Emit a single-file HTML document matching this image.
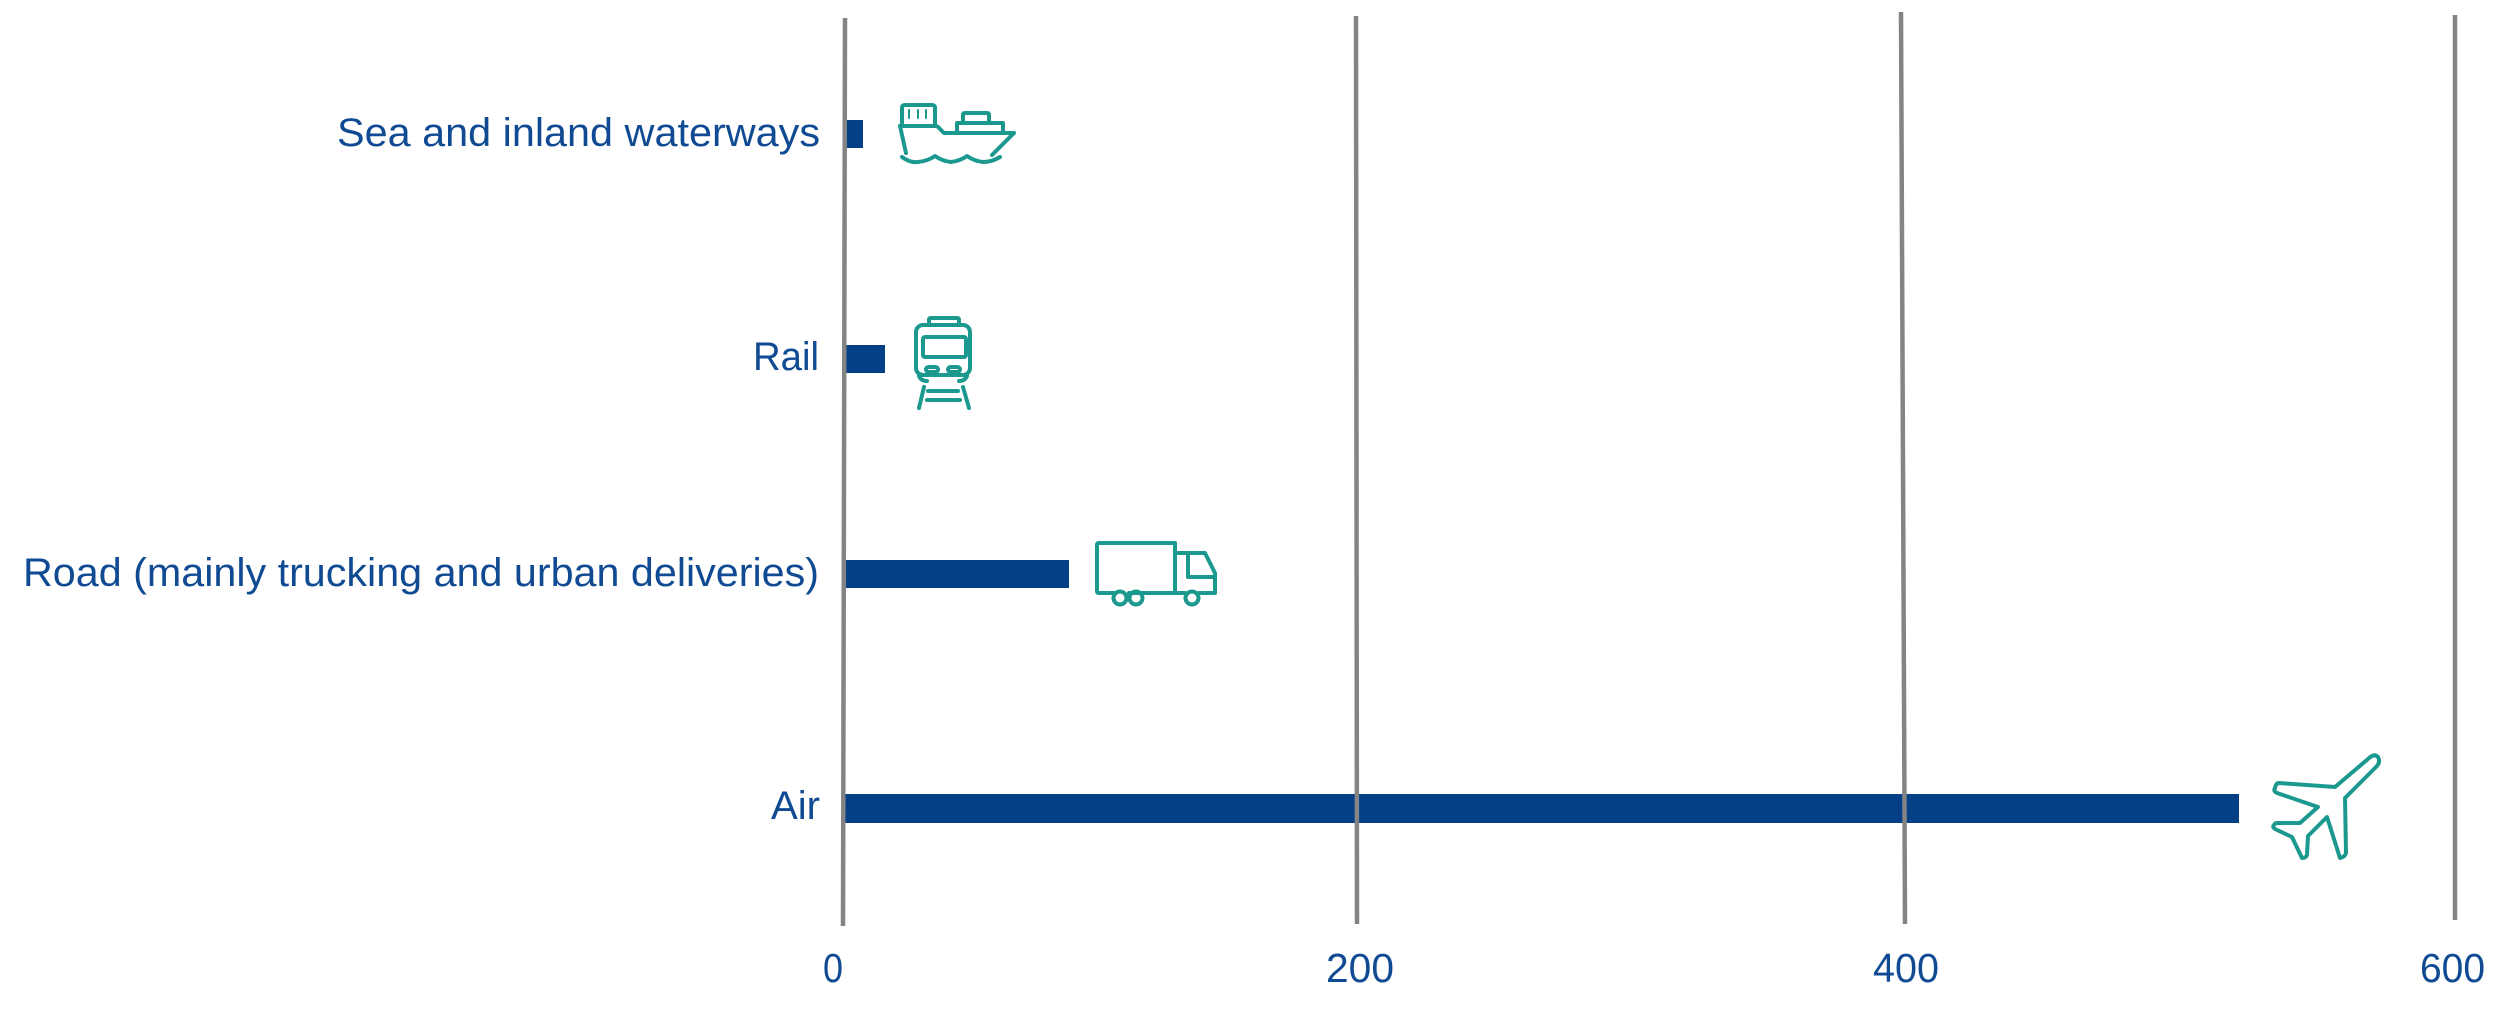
<!DOCTYPE html>
<html>
<head>
<meta charset="utf-8">
<style>
  html, body { margin: 0; padding: 0; background: #ffffff; }
  svg { display: block; }
  .lbl { font-family: "Liberation Sans", sans-serif; font-size: 40px; fill: #0f4a93; }
  .tick { font-family: "Liberation Sans", sans-serif; font-size: 41px; fill: #0f4a93; }
  .ico { fill: none; stroke: #1c998f; stroke-width: 4; stroke-linejoin: round; stroke-linecap: round; }
</style>
</head>
<body>
<svg width="2503" height="1011" viewBox="0 0 2503 1011" xmlns="http://www.w3.org/2000/svg">
  <rect x="0" y="0" width="2503" height="1011" fill="#ffffff"/>

  <!-- bars -->
  <rect x="843" y="120" width="20" height="28" fill="#053f86"/>
  <rect x="843" y="345" width="42" height="28" fill="#053f86"/>
  <rect x="843" y="560" width="226" height="28" fill="#053f86"/>
  <rect x="843" y="794" width="1396" height="29" fill="#053f86"/>

  <!-- gridlines -->
  <line x1="845" y1="18" x2="843" y2="926" stroke="#848484" stroke-width="4.5"/>
  <line x1="1356" y1="16" x2="1357" y2="924" stroke="#848484" stroke-width="4.5"/>
  <line x1="1901" y1="12" x2="1905" y2="924" stroke="#848484" stroke-width="4.5"/>
  <line x1="2455" y1="15" x2="2455" y2="920" stroke="#848484" stroke-width="4.5"/>

  <!-- category labels -->
  <text class="lbl" x="337" y="146" textLength="483" lengthAdjust="spacingAndGlyphs">Sea and inland waterways</text>
  <text class="lbl" x="753" y="370" textLength="66" lengthAdjust="spacingAndGlyphs">Rail</text>
  <text class="lbl" x="23" y="586" textLength="796" lengthAdjust="spacingAndGlyphs">Road (mainly trucking and urban deliveries)</text>
  <text class="lbl" x="771" y="819" textLength="49" lengthAdjust="spacingAndGlyphs">Air</text>

  <!-- tick labels -->
  <text class="tick" x="823" y="982" textLength="20" lengthAdjust="spacingAndGlyphs">0</text>
  <text class="tick" x="1326" y="982" textLength="68" lengthAdjust="spacingAndGlyphs">200</text>
  <text class="tick" x="1873" y="982" textLength="66" lengthAdjust="spacingAndGlyphs">400</text>
  <text class="tick" x="2420" y="982" textLength="65" lengthAdjust="spacingAndGlyphs">600</text>

  <!-- ship icon -->
  <g class="ico">
    <path d="M902,126 V108 Q902,105 905,105 H932 Q935,105 935,108 V126"/>
    <path d="M909,110 V118 M918,110 V118 M926,110 V118" stroke-width="2"/>
    <path d="M963,123 V115 Q963,113 965,113 H987 Q989,113 989,115 V123"/>
    <path d="M957,133 V123 H1003 V133"/>
    <path d="M906,153 L900,126 H935 Q938,126 940,129 L944,133 H1014 L992,155"/>
    <path d="M902,157 Q910,163 918,162 Q928,161 935,156 Q942,161 951,162 Q960,161 967,156 Q974,161 983,162 Q992,162 1000,157"/>
  </g>

  <!-- train icon -->
  <g class="ico">
    <path d="M929,325 V320 Q929,318 931,318 H957 Q959,318 959,320 V325"/>
    <rect x="916" y="325" width="54" height="50" rx="7"/>
    <rect x="923" y="337" width="43" height="20" rx="2"/>
    <rect x="926" y="367" width="12" height="5" rx="2.5"/>
    <rect x="948" y="367" width="12" height="5" rx="2.5"/>
    <path d="M919,376 Q921,381 927,381 M967,376 Q965,381 959,381"/>
    <path d="M924,387 L919,408 M963,387 L969,408"/>
    <path d="M928,391 H958 M927,400 H960"/>
  </g>

  <!-- truck icon -->
  <g class="ico">
    <path d="M1114,593 H1099 Q1097,593 1097,591 V545 Q1097,543 1099,543 H1175 V593 H1129"/>
    <path d="M1175,553 H1205 L1215,573 V593 H1199"/>
    <path d="M1188,553 V577 H1215"/>
    <path d="M1143,593 H1185"/>
    <circle cx="1120" cy="598" r="6.5"/>
    <circle cx="1136" cy="598" r="6.5"/>
    <circle cx="1192" cy="598" r="6.5"/>
  </g>

  <!-- plane icon -->
  <g class="ico">
    <path d="M2368,759 Q2374,753 2378,757 Q2381,762 2376,767 L2345,798 L2346,853 Q2345,857 2340,858 L2327,817 L2308,836 L2307,855 Q2306,858 2302,858 L2292,837 L2275,829 Q2272,827 2274,825 Q2275,823 2277,823 L2300,823 L2318,807 L2277,793 Q2273,791 2275,788 Q2276,783 2279,783 L2335,787 Z"/>
  </g>
</svg>
</body>
</html>
